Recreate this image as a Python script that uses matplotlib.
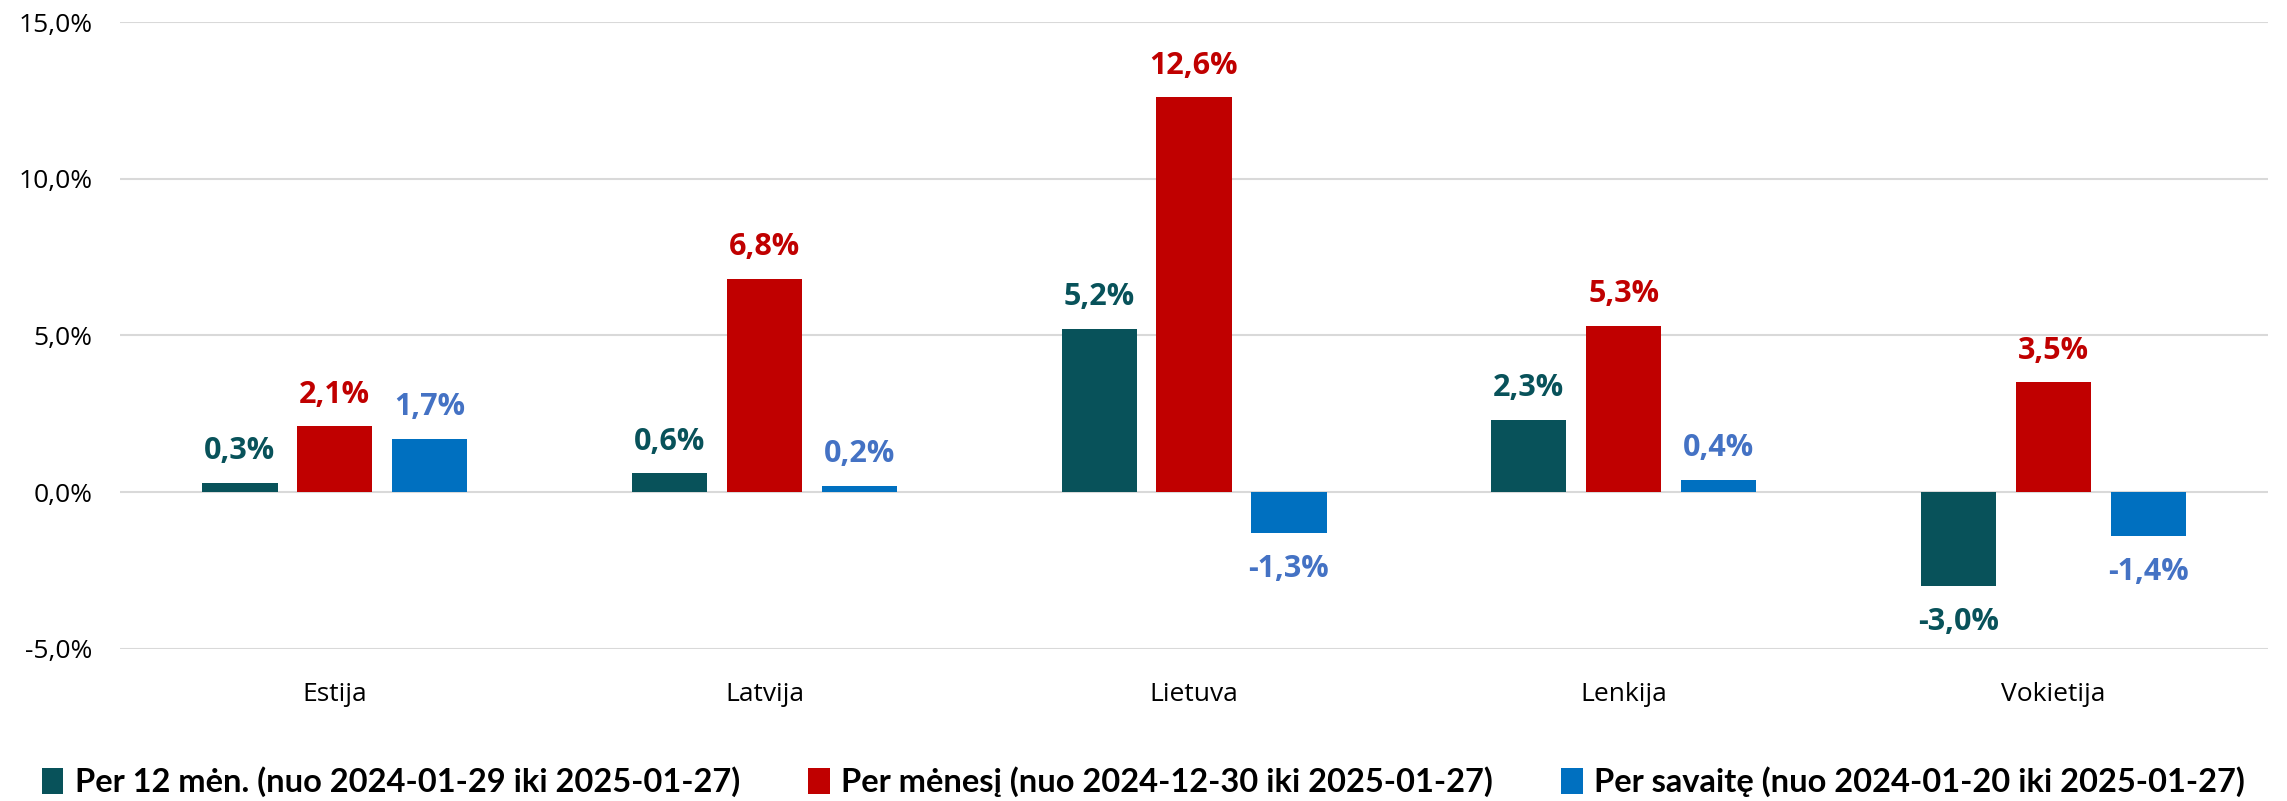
import matplotlib.pyplot as plt
import matplotlib.patches as mpatches
import matplotlib.ticker as mticker
import numpy as np

# Data
countries = ['Estija', 'Latvija', 'Lietuva', 'Lenkija', 'Vokietija']
per_12_men = [0.3, 0.6, 5.2, 2.3, -3.0]
per_menesi = [2.1, 6.8, 12.6, 5.3, 3.5]
per_savaite = [1.7, 0.2, -1.3, 0.4, -1.4]
series_labels = ['Per 12 mėn. (nuo 2024-01-29 iki 2025-01-27)',
                 'Per mėnesį (nuo 2024-12-30 iki 2025-01-27)',
                 'Per savaitę (nuo 2024-01-20 iki 2025-01-27)']

# Colors
TEAL = '#08525A'
RED = '#C00000'
BLUE = '#0070C0'
BLUE_TXT = '#4472C4'
GRID = '#D9D9D9'
FONT = ['Open Sans', 'DejaVu Sans']

fig = plt.figure(figsize=(22.87, 8.01), dpi=100)
ax = fig.add_axes([0.0525, 0.19, 0.9392, 0.7825])

x = np.arange(len(countries))
width = 0.175
step = 0.221
series = [(per_12_men, TEAL, TEAL), (per_menesi, RED, RED), (per_savaite, BLUE, BLUE_TXT)]

for i, (vals, col, tcol) in enumerate(series):
    xs = x + (i - 1) * step
    ax.bar(xs, vals, width, color=col, zorder=3)
    for xi, v in zip(xs, vals):
        off = 12 if v >= 0 else -15
        ax.annotate(f'{v:.1f}%'.replace('.', ','), (xi, v),
                    xytext=(0, off), textcoords='offset points',
                    ha='center', va='bottom' if v >= 0 else 'top',
                    fontsize=22, fontweight='bold', color=tcol, family=FONT)

ax.set_xlim(-0.5, len(countries) - 0.5)
ax.set_ylim(-5, 15)
ax.yaxis.set_major_locator(mticker.MultipleLocator(5))
ax.yaxis.set_major_formatter(mticker.FuncFormatter(lambda v, p: f'{v:.1f}%'.replace('.', ',')))
ax.grid(axis='y', color=GRID, linewidth=1.5, zorder=0)
ax.set_axisbelow(True)
for s in ax.spines.values():
    s.set_visible(False)
ax.set_xticks(x)
ax.set_xticklabels(countries)
ax.tick_params(axis='both', length=0, labelsize=19, colors='black')
ax.tick_params(axis='x', pad=24)
ax.tick_params(axis='y', pad=20)
for lab in ax.get_yticklabels() + ax.get_xticklabels():
    lab.set_family(FONT)

handles = [mpatches.Patch(facecolor=c, label=l)
           for (v, c, t), l in zip(series, series_labels)]
fig.legend(handles=handles, loc='center', ncol=3, frameon=False,
           bbox_to_anchor=(0.5, 0.024), handlelength=0.65, handleheight=0.85,
           handletextpad=0.35, columnspacing=2.1,
           prop={'family': ['Lato', 'DejaVu Sans'], 'weight': 'bold', 'size': 23.5})

fig.savefig('out.png', dpi=100, facecolor='white')
